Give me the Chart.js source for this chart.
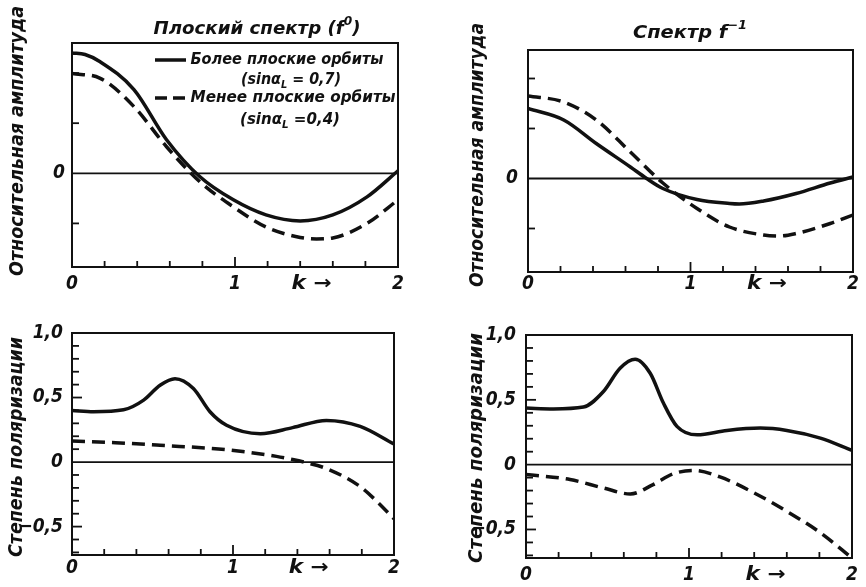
<!DOCTYPE html>
<html>
<head>
<meta charset="utf-8">
<script src="https://cdn.jsdelivr.net/npm/chart.js@4.4.0/dist/chart.umd.min.js"></script>
<style>
  body { margin: 0; background: #fff; }
  #page { position: relative; width: 866px; height: 587px; overflow: hidden; }
  #page canvas { position: absolute; }
</style>
</head>
<body>
<div id="page">
  <canvas id="ampFlat" width="433" height="300" style="left:0;top:0"></canvas>
  <canvas id="ampInv" width="433" height="300" style="left:433px;top:0"></canvas>
  <canvas id="polFlat" width="433" height="287" style="left:0;top:300px"></canvas>
  <canvas id="polInv" width="433" height="287" style="left:433px;top:300px"></canvas>
</div>
<script>
// Relative amplitude, flat spectrum (f^0)
const AMP_FLAT_SOLID_K = [0, 0.08, 0.17, 0.38, 0.58, 0.785, 0.99, 1.19, 1.40, 1.60, 1.81, 2.0];
const AMP_FLAT_SOLID   = [2.4, 2.37, 2.23, 1.67, 0.67, -0.07, -0.53, -0.83, -0.95, -0.83, -0.47, 0.05];
const AMP_FLAT_DASH_K  = [0, 0.17, 0.38, 0.58, 0.785, 0.99, 1.19, 1.40, 1.50, 1.60, 1.81, 2.0];
const AMP_FLAT_DASH    = [1.99, 1.9, 1.33, 0.53, -0.17, -0.67, -1.07, -1.28, -1.31, -1.29, -1.0, -0.53];

// Relative amplitude, f^-1 spectrum
const AMP_INV_SOLID_K = [0, 0.22, 0.42, 0.63, 0.73, 0.83, 1.04, 1.24, 1.30, 1.45, 1.65, 1.86, 2.0];
const AMP_INV_SOLID   = [1.4, 1.17, 0.7, 0.23, 0.0, -0.2, -0.42, -0.5, -0.51, -0.45, -0.3, -0.09, 0.03];
const AMP_INV_DASH_K  = [0, 0.22, 0.42, 0.63, 0.83, 1.04, 1.24, 1.45, 1.55, 1.65, 1.86, 2.0];
const AMP_INV_DASH    = [1.65, 1.53, 1.17, 0.53, -0.09, -0.6, -0.97, -1.13, -1.15, -1.1, -0.9, -0.73];

// Degree of polarization, flat spectrum
const POL_FLAT_SOLID_K = [0, 0.134, 0.32, 0.445, 0.547, 0.64, 0.754, 0.857, 0.96, 1.17, 1.37, 1.58, 1.79, 2.0];
const POL_FLAT_SOLID   = [0.40, 0.39, 0.405, 0.48, 0.595, 0.646, 0.57, 0.39, 0.285, 0.22, 0.267, 0.323, 0.277, 0.14];
const POL_FLAT_DASH_K  = [0, 0.27, 0.547, 0.96, 1.27, 1.37, 1.44, 1.58, 1.79, 1.89, 2.0];
const POL_FLAT_DASH    = [0.163, 0.15, 0.13, 0.096, 0.044, 0.02, 0.0, -0.05, -0.19, -0.30, -0.44];

// Degree of polarization, f^-1 spectrum
const POL_INV_SOLID_K = [0, 0.168, 0.352, 0.475, 0.577, 0.67, 0.762, 0.843, 0.926, 1.05, 1.233, 1.437, 1.60, 1.806, 2.0];
const POL_INV_SOLID   = [0.436, 0.43, 0.444, 0.564, 0.744, 0.813, 0.705, 0.475, 0.295, 0.23, 0.264, 0.282, 0.264, 0.205, 0.11];
const POL_INV_DASH_K  = [0, 0.27, 0.475, 0.64, 0.78, 0.905, 1.03, 1.19, 1.40, 1.60, 1.806, 2.0];
const POL_INV_DASH    = [-0.075, -0.115, -0.18, -0.226, -0.154, -0.07, -0.044, -0.095, -0.218, -0.36, -0.525, -0.72];

// Axis ticks and labels
const K_TICKS = [0.2, 0.4, 0.6, 0.8, 1.0, 1.2, 1.4, 1.6, 1.8];
const K_LABEL_VALUES = [0, 1, 2];
const K_LABELS = ['0', '1', '2'];
const AMP_TICKS = [-1, 1, 2];
const POL_TICKS = [-0.7, -0.6, -0.5, -0.4, -0.3, -0.2, -0.1, 0.1, 0.2, 0.3, 0.4, 0.5, 0.6, 0.7, 0.8, 0.9];
const POL_LABEL_VALUES = [1.0, 0.5, 0, -0.5];
const POL_LABELS = ['1,0', '0,5', '0', '\u22120,5'];

const INK = '#111';
const FONT = "'Liberation Sans Narrow', 'DejaVu Sans Condensed', sans-serif";

function pts(ks, vs) {
    return ks.map((k, i) => ({ x: k, y: vs[i] }));
}

// parts: [[text, 'sup'|'sub'|undefined], ...], squeezed/stretched to width
function drawText(ctx, parts, cx, cy, size, width, angle) {
    ctx.save();
    ctx.translate(cx, cy);
    ctx.rotate(angle || 0);
    const fontFor = p => `italic bold ${p[1] ? Math.round(size * 0.68) : size}px ${FONT}`;
    let total = 0;
    parts.forEach(p => { ctx.font = fontFor(p); total += ctx.measureText(p[0]).width; });
    if (width) ctx.scale(width / total, 1);
    ctx.fillStyle = INK;
    ctx.textBaseline = 'middle';
    ctx.textAlign = 'left';
    let x = -total / 2;
    parts.forEach(p => {
        ctx.font = fontFor(p);
        const dy = p[1] === 'sup' ? -size * 0.38 : p[1] === 'sub' ? size * 0.3 : 0;
        ctx.fillText(p[0], x, dy);
        x += ctx.measureText(p[0]).width;
    });
    ctx.restore();
}

function stroke(ctx, x1, y1, x2, y2) {
    ctx.beginPath();
    ctx.moveTo(x1, y1);
    ctx.lineTo(x2, y2);
    ctx.stroke();
}

const panelPlugin = {
    id: 'panel',
    beforeDatasetsDraw(chart, args, o) {
        const { ctx, chartArea: a, scales: { y } } = chart;
        ctx.save();
        ctx.strokeStyle = INK;
        ctx.lineWidth = 1.8;
        const y0 = y.getPixelForValue(0);
        stroke(ctx, a.left, y0, a.right, y0);
        ctx.restore();
    },
    afterDraw(chart, args, o) {
        const { ctx, chartArea: a, scales: { x, y } } = chart;
        ctx.save();
        ctx.strokeStyle = INK;
        ctx.lineWidth = 2;
        ctx.strokeRect(a.left, a.top, a.right - a.left, a.bottom - a.top);

        // inward tick marks
        ctx.lineWidth = 1.8;
        K_TICKS.forEach(v => {
            const px = x.getPixelForValue(v);
            stroke(ctx, px, a.bottom, px, a.bottom - (v === 1 ? 10 : 6));
        });
        o.yTicks.forEach(v => {
            const py = y.getPixelForValue(v);
            const major = Math.abs(Math.abs(v) - 0.5) < 1e-6;
            stroke(ctx, a.left, py, a.left + (major ? 10 : 7), py);
        });

        // axis labels
        K_LABEL_VALUES.forEach((v, i) => {
            drawText(ctx, [[K_LABELS[i]]], x.getPixelForValue(v), o.xLabelY, 19);
        });
        drawText(ctx, [['k \u2192']], x.getPixelForValue(1.47), o.xLabelY, 19, 40);

        o.yLabels.values.forEach((v, i) => {
            const txt = o.yLabels.text[i];
            ctx.font = `italic bold 19px ${FONT}`;
            const w = ctx.measureText(txt).width;
            drawText(ctx, [[txt]], o.yLabelRight - w / 2, y.getPixelForValue(v), 19);
        });

        drawText(ctx, o.yTitle.parts, o.yTitle.x, o.yTitle.y, 19, o.yTitle.width, -Math.PI / 2);
        (o.texts || []).forEach(t => drawText(ctx, t.parts, t.x, t.y, t.size, t.width));

        // legend samples
        (o.samples || []).forEach(s => {
            ctx.lineWidth = 3.5;
            ctx.setLineDash(s.dash);
            stroke(ctx, s.x1, s.y, s.x2, s.y);
        });
        ctx.restore();
    }
};

function curve(data, dash) {
    return {
        data: data,
        borderColor: INK,
        backgroundColor: INK,
        borderWidth: 3.5,
        borderDash: dash,
        pointRadius: 0,
        cubicInterpolationMode: 'monotone',
        fill: false
    };
}

function makePanel(id, solid, dash, yMin, yMax, padding, panel) {
    return new Chart(document.getElementById(id), {
        type: 'line',
        data: {
            datasets: [curve(dash, [13, 7]), curve(solid, [])]
        },
        options: {
            responsive: false,
            animation: false,
            layout: { padding: padding },
            scales: {
                x: { type: 'linear', min: 0, max: 2, display: false },
                y: { type: 'linear', min: yMin, max: yMax, display: false }
            },
            plugins: {
                legend: { display: false },
                tooltip: { enabled: false },
                colors: { enabled: false },
                panel: panel
            }
        },
        plugins: [panelPlugin]
    });
}

const AMP_TITLE = [['Относительная амплитуда']];
const POL_TITLE = [['Степень поляризации']];

makePanel('ampFlat', pts(AMP_FLAT_SOLID_K, AMP_FLAT_SOLID), pts(AMP_FLAT_DASH_K, AMP_FLAT_DASH),
    -1.87, 2.6, { left: 72, top: 43, right: 35, bottom: 33 }, {
        yTicks: AMP_TICKS,
        xLabelY: 284,
        yLabelRight: 65,
        yLabels: { values: [0], text: ['0'] },
        yTitle: { parts: AMP_TITLE, x: 18, y: 141, width: 270 },
        texts: [
            { parts: [['Плоский спектр (f'], ['0', 'sup'], [')']], x: 257, y: 29, size: 18, width: 207 },
            { parts: [['Более плоские орбиты']], x: 287, y: 60, size: 16, width: 193 },
            { parts: [['(sinα'], ['L', 'sub'], [' = 0,7)']], x: 291, y: 80, size: 16, width: 100 },
            { parts: [['Менее плоские орбиты']], x: 293, y: 98, size: 16, width: 205 },
            { parts: [['(sinα'], ['L', 'sub'], [' =0,4)']], x: 290, y: 120, size: 16, width: 100 }
        ],
        samples: [
            { x1: 155, x2: 186, y: 60, dash: [] },
            { x1: 155, x2: 187, y: 98, dash: [12, 6] }
        ]
    });

makePanel('ampInv', pts(AMP_INV_SOLID_K, AMP_INV_SOLID), pts(AMP_INV_DASH_K, AMP_INV_DASH),
    -1.87, 2.57, { left: 95, top: 50, right: 13, bottom: 28 }, {
        yTicks: AMP_TICKS,
        xLabelY: 284,
        yLabelRight: 85,
        yLabels: { values: [0], text: ['0'] },
        yTitle: { parts: AMP_TITLE, x: 45, y: 155, width: 264 },
        texts: [
            { parts: [['Спектр f'], ['\u22121', 'sup']], x: 257, y: 33, size: 18, width: 114 }
        ]
    });

makePanel('polFlat', pts(POL_FLAT_SOLID_K, POL_FLAT_SOLID), pts(POL_FLAT_DASH_K, POL_FLAT_DASH),
    -0.72, 1.0, { left: 72, top: 33, right: 39, bottom: 32 }, {
        yTicks: POL_TICKS,
        xLabelY: 268,
        yLabelRight: 63,
        yLabels: { values: POL_LABEL_VALUES, text: POL_LABELS },
        yTitle: { parts: POL_TITLE, x: 17, y: 147, width: 220 }
    });

makePanel('polInv', pts(POL_INV_SOLID_K, POL_INV_SOLID), pts(POL_INV_DASH_K, POL_INV_DASH),
    -0.72, 1.0, { left: 93, top: 35, right: 14, bottom: 29 }, {
        yTicks: POL_TICKS,
        xLabelY: 275,
        yLabelRight: 83,
        yLabels: { values: POL_LABEL_VALUES, text: POL_LABELS },
        yTitle: { parts: POL_TITLE, x: 44, y: 148, width: 230 }
    });
</script>
</body>
</html>
